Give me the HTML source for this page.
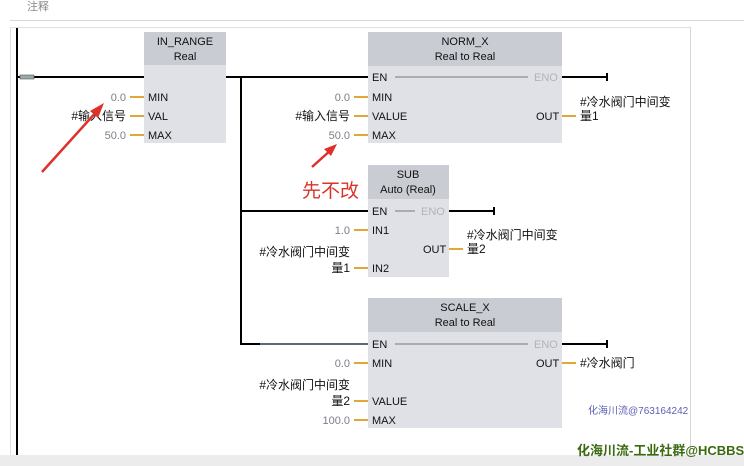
<!DOCTYPE html>
<html><head><meta charset="utf-8"><style>
html,body{margin:0;padding:0;background:#fff;width:744px;height:466px;overflow:hidden}
svg{display:block}
text{font-family:"Liberation Sans","Noto Sans CJK SC",sans-serif;font-size:11px;fill:#111}
.v{fill:#7a7f88;text-anchor:end}
.r{text-anchor:end}
.h{text-anchor:middle;font-size:11px}
.g{fill:#b0b4ba}
.c{font-size:12px}
</style></head><body>
<svg width="744" height="466" viewBox="0 0 744 466">
<text x="27" y="10" style="fill:#888;font-size:11px">注释</text>
<line x1="10" y1="20.5" x2="744" y2="20.5" stroke="#d8d8d8"/>
<line x1="10" y1="27.5" x2="690" y2="27.5" stroke="#e0e0e0"/>
<line x1="690.5" y1="27" x2="690.5" y2="455" stroke="#d6d6d6"/>
<line x1="10.5" y1="27" x2="10.5" y2="455" stroke="#e0e0e0"/>
<rect x="0" y="455" width="744" height="11" fill="#ececec"/>
<line x1="17" y1="28" x2="17" y2="455" stroke="#000" stroke-width="2"/>
<line x1="17" y1="77" x2="144" y2="77" stroke="#000" stroke-width="2"/>
<rect x="20" y="75" width="14" height="4" fill="#9aa" stroke="#555" stroke-width="0.6"/>
<line x1="226" y1="77" x2="368" y2="77" stroke="#000" stroke-width="2"/>
<line x1="241" y1="77" x2="241" y2="345" stroke="#000" stroke-width="2"/>
<line x1="241" y1="211" x2="368" y2="211" stroke="#000" stroke-width="2"/>
<line x1="241" y1="344" x2="260" y2="344" stroke="#000" stroke-width="2"/>
<line x1="260" y1="344" x2="368" y2="344" stroke="#5b6b7a" stroke-width="2"/>
<g stroke="#000" stroke-width="2">
<line x1="562" y1="77" x2="607" y2="77"/><line x1="607" y1="73" x2="607" y2="81"/>
<line x1="449" y1="211" x2="494" y2="211"/><line x1="494" y1="207" x2="494" y2="215"/>
<line x1="562" y1="344" x2="607" y2="344"/><line x1="607" y1="340" x2="607" y2="348"/>
</g>
<rect x="144" y="32" width="82" height="111" fill="#dfe1e6"/><rect x="144" y="32" width="82" height="33" fill="#c9ccd3"/>
<rect x="368" y="32" width="194" height="111" fill="#dfe1e6"/><rect x="368" y="32" width="194" height="34" fill="#c9ccd3"/>
<rect x="368" y="165" width="81" height="112" fill="#dfe1e6"/><rect x="368" y="165" width="81" height="34" fill="#c9ccd3"/>
<rect x="368" y="298" width="194" height="130" fill="#dfe1e6"/><rect x="368" y="298" width="194" height="34" fill="#c9ccd3"/>
<g stroke="#777" stroke-width="1">
<line x1="395" y1="77" x2="528" y2="77"/><line x1="395" y1="211" x2="415" y2="211"/><line x1="395" y1="344" x2="528" y2="344"/>
</g>
<text class="h" x="185" y="45">IN_RANGE</text><text class="h" x="185" y="60">Real</text>
<text class="h" x="465" y="45">NORM_X</text><text class="h" x="465" y="60">Real  to  Real</text>
<text class="h" x="408" y="178">SUB</text><text class="h" x="408" y="193">Auto (Real)</text>
<text class="h" x="465" y="311">SCALE_X</text><text class="h" x="465" y="326">Real  to  Real</text>
<g stroke="#e0a83a" stroke-width="2">
<line x1="130" y1="97" x2="144" y2="97"/><line x1="130" y1="116" x2="144" y2="116"/><line x1="130" y1="135" x2="144" y2="135"/>
<line x1="354" y1="97" x2="368" y2="97"/><line x1="354" y1="116" x2="368" y2="116"/><line x1="354" y1="135" x2="368" y2="135"/>
<line x1="562" y1="116" x2="576" y2="116"/>
<line x1="354" y1="230" x2="368" y2="230"/><line x1="354" y1="268" x2="368" y2="268"/>
<line x1="449" y1="249" x2="463" y2="249"/>
<line x1="354" y1="363" x2="368" y2="363"/><line x1="354" y1="401" x2="368" y2="401"/><line x1="354" y1="420" x2="368" y2="420"/>
<line x1="562" y1="363" x2="576" y2="363"/>
</g>
<text x="148" y="101">MIN</text><text x="148" y="120">VAL</text><text x="148" y="139">MAX</text>
<text x="372" y="81">EN</text><text class="g" x="534" y="81">ENO</text>
<text x="372" y="101">MIN</text><text x="372" y="120">VALUE</text><text x="372" y="139">MAX</text><text x="536" y="120">OUT</text>
<text x="372" y="215">EN</text><text class="g" x="421" y="215">ENO</text>
<text x="372" y="234">IN1</text><text x="372" y="272">IN2</text><text x="423" y="253">OUT</text>
<text x="372" y="348">EN</text><text class="g" x="534" y="348">ENO</text>
<text x="372" y="367">MIN</text><text x="372" y="405">VALUE</text><text x="372" y="424">MAX</text><text x="536" y="367">OUT</text>
<text class="v" x="126" y="101">0.0</text><text class="r c" x="126" y="120">#输入信号</text><text class="v" x="126" y="139">50.0</text>
<text class="v" x="350" y="101">0.0</text><text class="r c" x="350" y="120">#输入信号</text><text class="v" x="350" y="139">50.0</text>
<text class="c" x="580" y="106">#冷水阀门中间变</text><text class="c" x="580" y="120">量1</text>
<text class="v" x="350" y="234">1.0</text>
<text class="r c" x="350" y="256">#冷水阀门中间变</text><text class="r c" x="350" y="272">量1</text>
<text class="c" x="467" y="239">#冷水阀门中间变</text><text class="c" x="467" y="253">量2</text>
<text class="v" x="350" y="367">0.0</text>
<text class="r c" x="350" y="389">#冷水阀门中间变</text><text class="r c" x="350" y="405">量2</text>
<text class="v" x="350" y="424">100.0</text>
<text class="c" x="580" y="367">#冷水阀门</text>
<line x1="42" y1="172" x2="98" y2="110" stroke="#e0302a" stroke-width="2.5"/>
<polygon points="104,103 90,111 98,118" fill="#e0302a"/>
<line x1="312" y1="167" x2="332" y2="149" stroke="#e0302a" stroke-width="2.5"/>
<polygon points="337,144 324,149 331,156" fill="#e0302a"/>
<text x="302" y="197" style="fill:#d9342b;font-size:19px">先不改</text>
<text x="588" y="414" style="fill:#5c5fb8;font-size:10px">化海川流@763164242</text>
<text x="577" y="455" style="fill:#3a6a10;font-size:13px;font-weight:bold">化海川流-工业社群@HCBBS</text>
</svg>
</body></html>
